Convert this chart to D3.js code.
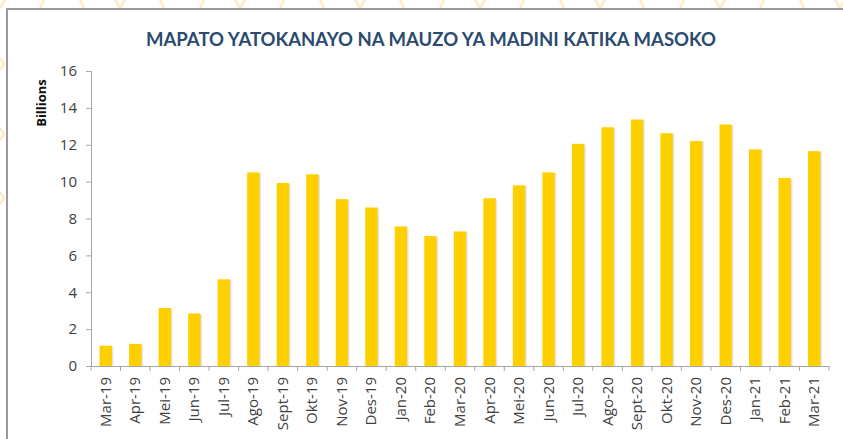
<!DOCTYPE html>
<html>
<head>
<meta charset="utf-8">
<script src="https://cdn.jsdelivr.net/npm/d3@7/dist/d3.min.js"></script>
<style>
  html, body { margin: 0; padding: 0; background: #fff; }
  svg { display: block; }
</style>
</head>
<body>
<script>
var months = ["Mar-19", "Apr-19", "Mei-19", "Jun-19", "Jul-19", "Ago-19", "Sept-19", "Okt-19", "Nov-19", "Des-19",
  "Jan-20", "Feb-20", "Mar-20", "Apr-20", "Mei-20", "Jun-20", "Jul-20", "Ago-20", "Sept-20", "Okt-20",
  "Nov-20", "Des-20", "Jan-21", "Feb-21", "Mar-21"];
var revenue = [1.1, 1.2, 3.15, 2.85, 4.7, 10.5, 9.93, 10.4, 9.05, 8.6,
  7.57, 7.05, 7.3, 9.1, 9.8, 10.5, 12.05, 12.95, 13.37, 12.63,
  12.2, 13.1, 11.75, 10.2, 11.65];
var yTicks = [0, 2, 4, 6, 8, 10, 12, 14, 16];
var chartTitle = "MAPATO YATOKANAYO NA MAUZO YA MADINI KATIKA MASOKO";
var yLabel = "Billions";

var W = 843, H = 439;
var font = "'Open Sans', Lato, sans-serif";
var svg = d3.select(document.body).append("svg")
  .attr("width", W)
  .attr("height", H);

// faint watermark strokes behind the frame
var wm = svg.append("g")
  .attr("stroke", "#fdebc8")
  .attr("stroke-width", 2.5)
  .attr("fill", "none");
d3.range(0, 24).forEach(function(i) {
  var x = i * 40;
  var d = (i % 3 === 0) ? "M" + (x - 5) + ",0 l5,8 l5,-8" : (i % 2 ? "M" + (x + 4) + ",0 l-4,8" : "M" + x + ",0 l4,8");
  wm.append("path").attr("d", d);
});
[58, 128, 192].forEach(function(y) {
  wm.append("path").attr("d", "M0," + y + " l4,6 l-4,6");
});

// chart frame
svg.append("rect")
  .attr("x", 7)
  .attr("y", 9)
  .attr("width", W)
  .attr("height", H)
  .attr("fill", "#fff")
  .attr("stroke", "#9a9a9a")
  .attr("stroke-width", 2);

svg.append("text")
  .attr("x", 431)
  .attr("y", 46)
  .attr("text-anchor", "middle")
  .attr("font-family", "Lato, 'Open Sans', sans-serif")
  .attr("font-weight", "bold")
  .attr("font-size", 18)
  .attr("fill", "#2b4a6f")
  .attr("textLength", 570)
  .attr("lengthAdjust", "spacingAndGlyphs")
  .text(chartTitle);

var x = d3.scaleBand()
  .domain(months)
  .range([91, 829])
  .paddingInner(0.58)
  .paddingOuter(0.29);

var y = d3.scaleLinear()
  .domain([0, 16])
  .range([366, 71]);

// y axis
var yAxis = svg.append("g")
  .attr("transform", "translate(91,0)")
  .call(d3.axisLeft(y).tickValues(yTicks).tickSize(5).tickPadding(9));
yAxis.select(".domain").attr("stroke", "#a6a6a6");
yAxis.selectAll(".tick line").attr("stroke", "#a6a6a6");
yAxis.selectAll(".tick text")
  .attr("font-family", font)
  .attr("font-size", 15)
  .attr("fill", "#404040");

svg.append("text")
  .attr("transform", "translate(46,103) rotate(-90)")
  .attr("text-anchor", "middle")
  .attr("font-family", font)
  .attr("font-weight", "bold")
  .attr("font-size", 13)
  .attr("fill", "#111")
  .text(yLabel);

// bars with a light shadow
var bars = svg.append("g");
bars.selectAll("rect.shadow")
  .data(revenue)
  .enter().append("rect")
  .attr("class", "shadow")
  .attr("x", function(d, i) { return x(months[i]) + 1.5; })
  .attr("y", function(d) { return y(d) + 1; })
  .attr("width", x.bandwidth())
  .attr("height", function(d) { return y(0) - y(d) - 1; })
  .attr("fill", "#d9d9d9")
  .attr("opacity", 0.7);
bars.selectAll("rect.bar")
  .data(revenue)
  .enter().append("rect")
  .attr("class", "bar")
  .attr("x", function(d, i) { return x(months[i]); })
  .attr("y", function(d) { return y(d); })
  .attr("width", x.bandwidth())
  .attr("height", function(d) { return y(0) - y(d); })
  .attr("fill", "#ffd000");

// x axis
var xAxis = svg.append("g")
  .attr("transform", "translate(0,366)")
  .call(d3.axisBottom(x).tickSize(0).tickPadding(0));
xAxis.select(".domain").attr("stroke", "#a6a6a6");
xAxis.selectAll(".tick text")
  .attr("font-family", font)
  .attr("font-size", 15)
  .attr("fill", "#404040")
  .attr("text-anchor", "end")
  .attr("dy", null)
  .attr("transform", "translate(5,11) rotate(-90)");

var step = x.step();
var boundaries = d3.range(months.length + 1).map(function(i) { return 91 + i * step; });
xAxis.selectAll("line.sep")
  .data(boundaries)
  .enter().append("line")
  .attr("class", "sep")
  .attr("x1", function(d) { return d; })
  .attr("x2", function(d) { return d; })
  .attr("y1", 0)
  .attr("y2", 5)
  .attr("stroke", "#a6a6a6");
</script>
</body>
</html>
